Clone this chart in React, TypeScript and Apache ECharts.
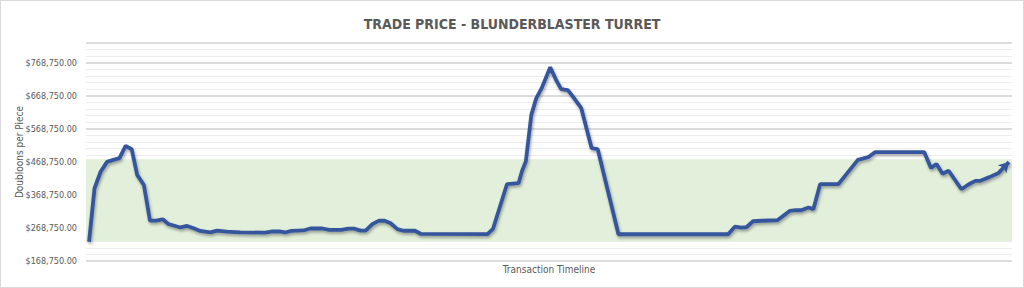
import React, { useEffect, useRef } from "react";
import * as echarts from "echarts";

// Transaction timeline position (transaction index) and price per piece
const timeline = [
  0.5, 1.4, 2.4, 3.45, 4.5, 5.5, 6.5, 7.5, 8.4, 9.5,
  10.5, 11.5, 12.6, 13.5, 15.5, 16.6, 17.65, 18.75, 20.4, 21.5,
  23.1, 25.3, 29.4, 30.6, 31.7, 32.7, 33.7, 35.7, 36.8, 38.8,
  39.9, 41.9, 43.1, 43.95, 45.1, 45.9, 47.0, 48.1, 49.0, 50.0,
  51.1, 52.1, 54.0, 55.0, 65.9, 66.8, 69.1, 71.0, 71.6, 72.2,
  73.1, 73.9, 74.8, 76.2, 77.2, 78.0, 79.1, 79.9, 81.3, 83.0,
  84.0, 87.4, 105.4, 106.5, 107.6, 108.4, 109.5, 110.9, 113.5, 115.5,
  116.6, 117.4, 118.6, 119.4, 120.5, 123.5, 126.7, 128.4, 129.5, 137.6,
  138.7, 139.6, 140.6, 141.6, 143.7, 144.9, 146.0, 146.7, 148.3, 149.8,
  151.5,
];
const prices = [
  227000, 389000, 439000, 468750, 474800, 480000, 517200, 507200, 429400, 399000,
  290900, 290900, 295100, 280900, 270300, 274800, 267800, 259700, 255700, 260600,
  257500, 255700, 254500, 258100, 258100, 255100, 259700, 261200, 267200, 267200,
  262700, 262700, 266600, 266600, 260600, 260600, 280300, 290900, 290600, 283000,
  265100, 260300, 260300, 250600, 250000, 265700, 401200, 404200, 443000, 470300,
  611200, 661200, 692100, 755100, 715700, 689000, 686000, 667200, 631500, 510300,
  507200, 249700, 249700, 272700, 269700, 270900, 289100, 290600, 292100, 320300,
  322700, 322400, 330900, 325700, 401500, 401500, 474800, 483000, 498100, 498100,
  450600, 462100, 433000, 442100, 386000, 401200, 411200, 411200, 422700, 435400,
  468100,
];
// Shaded price band (low, high)
const bandRange = [229400, 476900];
const yMin = 168750;
const yMax = 828750;
const yStep = 100000;
const timelineMax = 152;

const TITLE = "TRADE PRICE - BLUNDERBLASTER TURRET";
const Y_NAME = "Doubloons per Piece";
const X_NAME = "Transaction Timeline";

const FONT = "'Liberation Sans Narrow', 'DejaVu Sans Condensed', Roboto, sans-serif";

export default function App() {
  const ref = useRef<HTMLDivElement>(null);
  useEffect(() => {
    if (!ref.current) return;
    const chart = echarts.init(ref.current, undefined, { renderer: "svg" });
    const n = timeline.length;
    const data = timeline.map((t, i) => {
      if (i === n - 1) {
        return {
          value: [t, prices[i]],
          symbol: "arrow",
          symbolSize: [9, 10],
          symbolRotate: -44,
          itemStyle: { color: "#34569c" },
        };
      }
      return { value: [t, prices[i]], symbol: "none" };
    });
    chart.setOption({
      animation: false,
      backgroundColor: "#ffffff",
      title: {
        text: TITLE,
        left: "center",
        top: 11,
        textStyle: {
          fontFamily: FONT,
          fontWeight: "bold",
          fontSize: 14,
          color: "#595959",
        },
      },
      grid: {
        left: 85,
        right: 11,
        top: 42,
        bottom: 26,
        containLabel: false,
        outerBoundsMode: "none",
      },
      xAxis: {
        type: "value",
        min: 0,
        max: timelineMax,
        name: X_NAME,
        nameLocation: "middle",
        nameGap: 3,
        nameMoveOverlap: false,
        nameTextStyle: {
          fontFamily: FONT,
          fontSize: 10,
          color: "#595959",
          verticalAlign: "top",
        },
        axisLine: { show: false },
        axisTick: { show: false },
        axisLabel: { show: false },
        splitLine: { show: false },
      },
      yAxis: {
        type: "value",
        min: yMin,
        max: yMax,
        interval: yStep,
        name: Y_NAME,
        nameLocation: "middle",
        nameGap: 62,
        nameMoveOverlap: false,
        nameTextStyle: {
          fontFamily: FONT,
          fontSize: 10,
          color: "#595959",
        },
        axisLine: { show: false },
        axisTick: { show: false },
        axisLabel: {
          margin: 9,
          fontFamily: FONT,
          fontSize: 9,
          color: "#595959",
          formatter: (v: number) =>
            v > yMax - 1 || (v - yMin) % yStep !== 0
              ? ""
              : "$" +
                v.toLocaleString("en-US", {
                  minimumFractionDigits: 2,
                  maximumFractionDigits: 2,
                }),
        },
        splitLine: { lineStyle: { color: "#d0d0d0", width: 1.5 } },
        minorTick: { show: false, splitNumber: 5 },
        minorSplitLine: { show: true, lineStyle: { color: "#ededed", width: 1 } },
      },
      series: [
        {
          type: "line",
          data,
          showSymbol: true,
          lineStyle: {
            color: "#34569c",
            width: 3.8,
            shadowColor: "rgba(0,0,0,0.35)",
            shadowBlur: 3,
            shadowOffsetX: 1,
            shadowOffsetY: 2,
          },
          itemStyle: { color: "#34569c" },
          markArea: {
            silent: true,
            itemStyle: { color: "#e2efda" },
            data: [[{ yAxis: bandRange[0] }, { yAxis: bandRange[1] }]],
          },
          z: 3,
        },
      ],
    });
    return () => chart.dispose();
  }, []);
  return (
    <div
      style={{
        position: "fixed",
        left: 0,
        top: 0,
        width: 1024,
        height: 288,
        boxSizing: "border-box",
        border: "1px solid #d9d9d9",
        background: "#fff",
      }}
    >
      <div ref={ref} style={{ width: 1022, height: 286 }} />
    </div>
  );
}
